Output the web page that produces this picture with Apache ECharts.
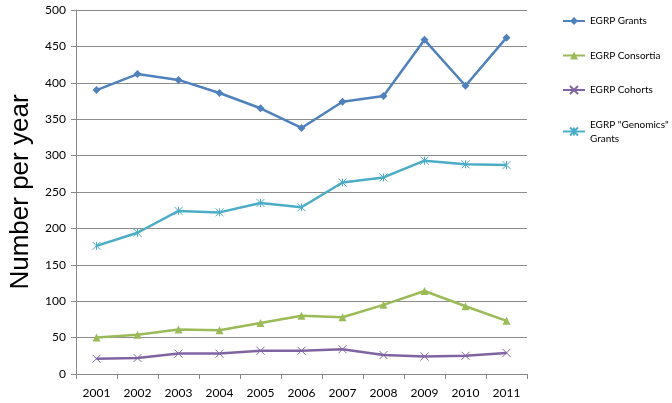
<!DOCTYPE html>
<html><head><meta charset="utf-8">
<script src="https://cdn.jsdelivr.net/npm/echarts@6/dist/echarts.min.js"></script>
<style>html,body{margin:0;padding:0;background:#fff}#c{width:672px;height:403px}</style>
</head><body><div id="c"></div>
<script>
const years = ['2001','2002','2003','2004','2005','2006','2007','2008','2009','2010','2011'];
const grants = [390,412,404,386,365,338,374,382,459,396,462];
const consortia = [50,54,61,60,70,80,78,95,114,93,73];
const cohorts = [21,22,28,28,32,32,34,26,24,25,29];
const genomics = [176,194,224,222,235,229,263,270,293,288,287];
const names = ['EGRP Grants','EGRP Consortia','EGRP Cohorts','EGRP "Genomics"\nGrants'];
const colors = ['#4F81BD','#9BBB59','#8064A2','#4BACC6'];
const xPath = 'path://M0,0L10,10M10,0L0,10';
const starPath = 'path://M0,0L10,10M10,0L0,10M5,0L5,10';
const chart = echarts.init(document.getElementById('c'));
function ser(i, data, symbol, size, strokeSym){
  return {
    name: names[i], type: 'line', data: data, symbol: symbol, symbolSize: size,
    showAllSymbol: true,
    lineStyle: {color: colors[i], width: 2.5},
    itemStyle: strokeSym ? {color: colors[i], borderColor: colors[i], borderWidth: 1} : {color: colors[i]},
    emphasis: {disabled: true}
  };
}
chart.setOption({
  animation: false,
  textStyle: {fontFamily: 'Lato, Liberation Sans, Arial, sans-serif'},
  grid: {left: 73, right: 145, top: 10, bottom: 29},
  legend: {
    orient: 'vertical', left: 562, top: 14, padding: 0, itemGap: 20.5, itemWidth: 22, itemHeight: 10,
    textStyle: {fontSize: 10, color: '#000', lineHeight: 14},
    data: names
  },
  xAxis: {
    type: 'category', data: years, boundaryGap: true,
    axisLine: {lineStyle: {color: '#888'}},
    axisTick: {show: true, length: 5, lineStyle: {color: '#888'}},
    axisLabel: {fontSize: 12, color: '#000', margin: 13}
  },
  yAxis: {
    type: 'value', min: 0, max: 500, interval: 50,
    name: 'Number per year', nameLocation: 'middle', nameGap: 42,
    nameTextStyle: {fontSize: 26, color: '#000', fontFamily: 'Liberation Sans, Arial, sans-serif'},
    axisLine: {show: true, lineStyle: {color: '#888'}},
    axisTick: {show: true, length: 5, lineStyle: {color: '#888'}},
    axisLabel: {fontSize: 12, color: '#000', margin: 10},
    splitLine: {lineStyle: {color: '#8c8c8c', width: 1}}
  },
  series: [
    ser(0, grants, 'diamond', 8, false),
    ser(1, consortia, 'triangle', 8, false),
    ser(2, cohorts, xPath, 8, true),
    ser(3, genomics, starPath, 8, true)
  ]
});
</script></body></html>
